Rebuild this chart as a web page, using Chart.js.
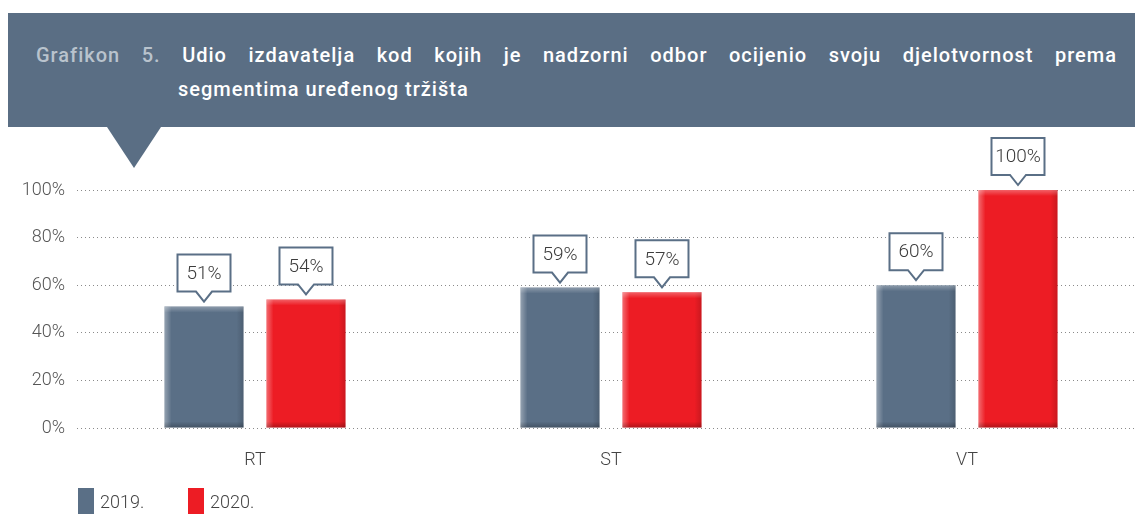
<!DOCTYPE html>
<html>
<head>
<meta charset="utf-8">
<script src="https://cdn.jsdelivr.net/npm/chart.js@4/dist/chart.umd.min.js"></script>
<style>
  html, body { margin: 0; padding: 0; background: #fff; overflow: hidden; width: 1135px; height: 514px; }
  #header {
    position: absolute; left: 8px; top: 13px; right: 0; height: 114px;
    background: #5a6e84; font-family: Roboto, "DejaVu Sans", sans-serif;
    font-weight: 500; font-size: 20px; color: #fff; letter-spacing: 1px;
  }
  #line1 {
    position: absolute; left: 28px; right: 18px; top: 29px; line-height: 26px;
    text-align: justify; text-align-last: justify;
  }
  #line1 span.lead { color: #b9c3cd; }
  #line2 { position: absolute; left: 170px; top: 63px; line-height: 26px; }
  #pointer {
    position: absolute; left: 107px; top: 127px; width: 0; height: 0;
    border-left: 27px solid transparent; border-right: 27px solid transparent;
    border-top: 41px solid #5a6e84;
  }
  #wrap { position: absolute; left: 0; top: 130px; width: 1145px; height: 384px; }
</style>
</head>
<body>
<div id="header">
  <div id="line1"><span class="lead">Grafikon 5.</span> Udio izdavatelja kod kojih je nadzorni odbor ocijenio svoju djelotvornost prema</div>
  <div id="line2">segmentima uređenog tržišta</div>
</div>
<div id="pointer"></div>
<div id="wrap"><canvas id="grafikon" width="1145" height="384"></canvas></div>
<script>
const kategorije = ['RT', 'ST', 'VT'];
const godine = ['2019.', '2020.'];
const udio2019 = [51, 59, 60];
const udio2020 = [54, 57, 100];
const yOznake = [0, 20, 40, 60, 80, 100];

const boje = ['#5a6f86', '#ed1c24'];
const slova = 'Roboto, "DejaVu Sans", sans-serif';

// Sjenčanje rubova stupaca (blagi 3D dojam)
const rubovi = {
    id: 'rubovi',
    afterDatasetsDraw(chart) {
        const ctx = chart.ctx;
        chart.data.datasets.forEach((ds, i) => {
            chart.getDatasetMeta(i).data.forEach(bar => {
                const l = bar.x - bar.width / 2, r = bar.x + bar.width / 2;
                const t = bar.y, b = bar.base;
                ctx.save();
                let g = ctx.createLinearGradient(l, 0, l + 7, 0);
                g.addColorStop(0, 'rgba(255,255,255,0.35)');
                g.addColorStop(1, 'rgba(255,255,255,0)');
                ctx.fillStyle = g; ctx.fillRect(l, t, 7, b - t);
                g = ctx.createLinearGradient(r - 7, 0, r, 0);
                g.addColorStop(0, 'rgba(0,0,0,0)');
                g.addColorStop(1, 'rgba(0,0,0,0.15)');
                ctx.fillStyle = g; ctx.fillRect(r - 7, t, 7, b - t);
                g = ctx.createLinearGradient(0, t, 0, t + 6);
                g.addColorStop(0, 'rgba(255,255,255,0.3)');
                g.addColorStop(1, 'rgba(255,255,255,0)');
                ctx.fillStyle = g; ctx.fillRect(l, t, r - l, 6);
                g = ctx.createLinearGradient(0, b - 6, 0, b);
                g.addColorStop(0, 'rgba(0,0,0,0)');
                g.addColorStop(1, 'rgba(0,0,0,0.25)');
                ctx.fillStyle = g; ctx.fillRect(l, b - 6, r - l, 6);
                ctx.restore();
            });
        });
    }
};

// Oblačići s vrijednostima iznad stupaca
const oblacici = {
    id: 'oblacici',
    afterDatasetsDraw(chart) {
        const ctx = chart.ctx;
        chart.data.datasets.forEach((ds, i) => {
            const meta = chart.getDatasetMeta(i);
            meta.data.forEach((bar, j) => {
                const x = bar.x;
                const vrh = bar.y - 5;
                const dno = vrh - 10;
                const gore = dno - 37;
                const w = 53;
                ctx.save();
                ctx.beginPath();
                ctx.moveTo(x - w / 2, gore);
                ctx.lineTo(x + w / 2, gore);
                ctx.lineTo(x + w / 2, dno);
                ctx.lineTo(x + 8, dno);
                ctx.lineTo(x, vrh);
                ctx.lineTo(x - 8, dno);
                ctx.lineTo(x - w / 2, dno);
                ctx.closePath();
                ctx.fillStyle = '#fff';
                ctx.fill();
                ctx.lineWidth = 2;
                ctx.strokeStyle = '#5a6f86';
                ctx.stroke();
                ctx.fillStyle = '#3c3c3c';
                ctx.font = '300 19px ' + slova;
                ctx.textAlign = 'center';
                ctx.textBaseline = 'middle';
                ctx.fillText(ds.data[j] + '%', x, (gore + dno) / 2 + 1);
                ctx.restore();
            });
        });
    }
};

// Legenda dolje lijevo
const legenda = {
    id: 'legenda',
    afterDraw(chart) {
        const ctx = chart.ctx;
        const pozicije = [78, 188];
        chart.data.datasets.forEach((ds, i) => {
            const x = pozicije[i];
            ctx.save();
            ctx.fillStyle = ds.backgroundColor;
            ctx.fillRect(x, 358, 16, 26);
            ctx.fillStyle = '#444';
            ctx.font = '300 18px ' + slova;
            ctx.textBaseline = 'middle';
            ctx.fillText(ds.label, x + 22, 373);
            ctx.restore();
        });
    }
};

new Chart(document.getElementById('grafikon'), {
    type: 'bar',
    data: {
        labels: kategorije,
        datasets: [
            { label: godine[0], data: udio2019, backgroundColor: boje[0] },
            { label: godine[1], data: udio2020, backgroundColor: boje[1] }
        ]
    },
    options: {
        responsive: false,
        animation: false,
        layout: { padding: { top: 60, left: 0, right: 0, bottom: 0 } },
        categoryPercentage: 0.573,
        barPercentage: 0.775,
        plugins: {
            legend: { display: false },
            tooltip: { enabled: false }
        },
        scales: {
            x: {
                grid: { display: false, drawTicks: false },
                border: { display: false },
                ticks: { color: '#444', font: { family: slova, size: 18, weight: 300 }, padding: 22 },
                afterFit: s => { s.height = 86; }
            },
            y: {
                min: 0, max: 100,
                afterBuildTicks: s => { s.ticks = yOznake.map(v => ({ value: v })); },
                grid: { color: '#8a8a8a', lineWidth: 1, drawTicks: false },
                border: { display: false, dash: [1, 3] },
                ticks: {
                    color: '#555', padding: 12,
                    font: { family: slova, size: 18, weight: 300 },
                    callback: v => v + '%'
                },
                afterFit: s => { s.width = 77; }
            }
        }
    },
    plugins: [rubovi, oblacici, legenda]
});
</script>
</body>
</html>
